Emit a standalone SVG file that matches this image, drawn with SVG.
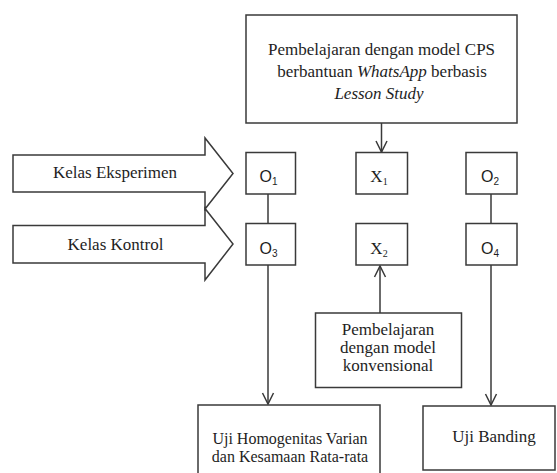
<svg xmlns="http://www.w3.org/2000/svg" width="557" height="473" viewBox="0 0 557 473">
  <style>
    .box { fill: #ffffff; stroke: #3a3a3a; stroke-width: 1.5; }
    .conn { fill: none; stroke: #3a3a3a; stroke-width: 1.5; }
    .t { font-family: "Liberation Serif", "Times New Roman", serif; font-size: 17px; fill: #1e1e1e; }
    .s { font-size: 16px; }
    .o { font-family: "Liberation Sans", Arial, sans-serif; font-size: 16px; fill: #1e1e1e; }
    .sub { font-size: 10px; }
    .i { font-style: italic; }
  </style>
  <defs>
    <marker id="arrow" markerUnits="userSpaceOnUse" viewBox="-12 -7 14 14" refX="0" refY="0" markerWidth="14" markerHeight="14" orient="auto">
      <path d="M-11,-5.5 L0,0 L-11,5.5" fill="none" stroke="#3a3a3a" stroke-width="1.5"/>
    </marker>
  </defs>
  <rect width="557" height="473" fill="#ffffff"/>

  <g id="connectors">
    <line class="conn" x1="381.5" y1="123" x2="381.5" y2="152" marker-end="url(#arrow)"/>
    <line class="conn" x1="268" y1="194" x2="268" y2="223"/>
    <line class="conn" x1="491" y1="194" x2="491" y2="223"/>
    <line class="conn" x1="268" y1="265" x2="268" y2="404" marker-end="url(#arrow)"/>
    <line class="conn" x1="491" y1="265" x2="491" y2="405" marker-end="url(#arrow)"/>
    <line class="conn" x1="380" y1="313" x2="380" y2="266" marker-end="url(#arrow)"/>
  </g>

  <g id="cps">
    <rect class="box" x="246" y="15" width="271" height="108"/>
    <text class="t" x="381.5" y="55" text-anchor="middle">Pembelajaran dengan model CPS</text>
    <text class="t" x="382" y="77" text-anchor="middle">berbantuan <tspan class="i">WhatsApp</tspan> berbasis</text>
    <text class="t i" x="379" y="99" text-anchor="middle">Lesson Study</text>
  </g>

  <g id="kelas-eksperimen">
    <path class="box" d="M13,155 L205,155 L205,138 L233,173.5 L205,209 L205,192 L13,192 Z"/>
    <text class="t" x="115" y="178" text-anchor="middle">Kelas Eksperimen</text>
  </g>

  <g id="kelas-kontrol">
    <path class="box" d="M13,225.5 L205,225.5 L205,208.5 L233,244 L205,280 L205,263 L13,263 Z"/>
    <text class="t" x="115.5" y="250" text-anchor="middle">Kelas Kontrol</text>
  </g>

  <g id="o1">
    <rect class="box" x="246" y="152.5" width="49.5" height="41.5"/>
    <text class="o" x="268.5" y="182" text-anchor="middle">O<tspan class="sub" dy="3">1</tspan></text>
  </g>
  <g id="x1">
    <rect class="box" x="356" y="152.5" width="51.5" height="41.5"/>
    <text class="t" x="379" y="182" text-anchor="middle">X<tspan class="sub" dy="3">1</tspan></text>
  </g>
  <g id="o2">
    <rect class="box" x="466" y="152.5" width="51" height="41.5"/>
    <text class="o" x="490" y="182" text-anchor="middle">O<tspan class="sub" dy="3">2</tspan></text>
  </g>

  <g id="o3">
    <rect class="box" x="246" y="223.5" width="49.5" height="41.5"/>
    <text class="o" x="268.5" y="254" text-anchor="middle">O<tspan class="sub" dy="3">3</tspan></text>
  </g>
  <g id="x2">
    <rect class="box" x="356" y="223.5" width="51.5" height="41.5"/>
    <text class="t" x="379" y="254" text-anchor="middle">X<tspan class="sub" dy="3">2</tspan></text>
  </g>
  <g id="o4">
    <rect class="box" x="466" y="223.5" width="51" height="41.5"/>
    <text class="o" x="490" y="254" text-anchor="middle">O<tspan class="sub" dy="3">4</tspan></text>
  </g>

  <g id="konvensional">
    <rect class="box" x="315.5" y="313" width="146" height="74.5"/>
    <text class="t" x="388" y="335" text-anchor="middle">Pembelajaran</text>
    <text class="t" x="388" y="353" text-anchor="middle">dengan model</text>
    <text class="t" x="388" y="370.5" text-anchor="middle">konvensional</text>
  </g>

  <g id="uji-homogenitas">
    <rect class="box" x="198" y="405" width="182" height="80"/>
    <text class="t s" x="290" y="444" text-anchor="middle">Uji Homogenitas Varian</text>
    <text class="t s" x="290" y="462" text-anchor="middle">dan Kesamaan Rata-rata</text>
  </g>

  <g id="uji-banding">
    <rect class="box" x="423" y="406" width="132" height="64"/>
    <text class="t" x="494" y="442" text-anchor="middle">Uji Banding</text>
  </g>
</svg>
